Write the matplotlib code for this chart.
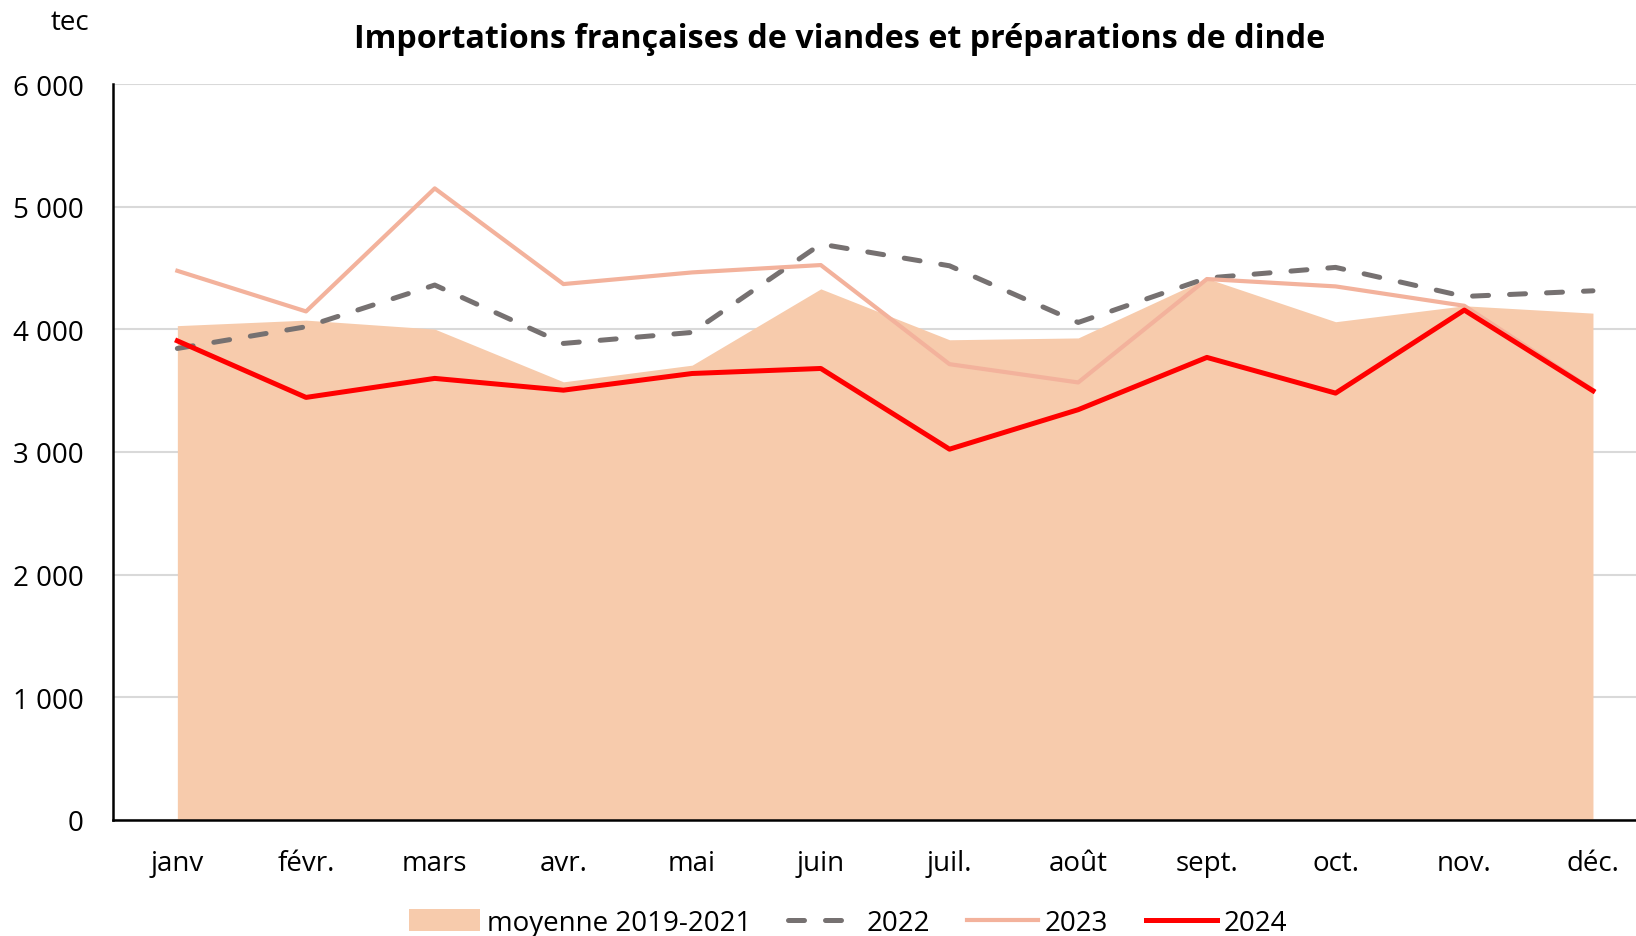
import matplotlib
matplotlib.use("Agg")
import matplotlib.pyplot as plt
from matplotlib.ticker import FuncFormatter
from matplotlib.patches import Patch
from matplotlib.lines import Line2D

months = ["janv", "févr.", "mars", "avr.", "mai", "juin", "juil.", "août", "sept.", "oct.", "nov.", "déc."]
moyenne_2019_2021 = [4030, 4075, 4002, 3572, 3708, 4330, 3915, 3930, 4415, 4062, 4192, 4132]
y2022 = [3844, 4021, 4361, 3885, 3975, 4695, 4518, 4056, 4418, 4505, 4268, 4314]
y2023 = [4477, 4146, 5149, 4369, 4464, 4524, 3716, 3567, 4410, 4350, 4192, 3505]
y2024 = [3906, 3445, 3600, 3504, 3640, 3681, 3023, 3345, 3771, 3480, 4157, 3499]
yticks = [0, 1000, 2000, 3000, 4000, 5000, 6000]

FONT = "Open Sans"
plt.rcParams["font.family"] = [FONT, "DejaVu Sans"]

W, H = 1636, 937
fig = plt.figure(figsize=(W / 100, H / 100), dpi=100)
ax = fig.add_axes([113 / W, 1 - 821 / H, 1 - 113 / W, (821 - 85) / H])

x = list(range(len(months)))
c_area = "#F7CBAC"
c_2022 = "#767171"
c_2023 = "#F3B29C"
c_2024 = "#FF0000"

LW22, LW23, LW24 = 3.6, 3.0, 3.6
FS = 20

ax.fill_between(x, 0, moyenne_2019_2021, color=c_area, lw=0, zorder=2)
ax.plot(x, y2022, color=c_2022, lw=LW22, dashes=(3.2, 4.2), dash_capstyle="round", zorder=3)
ax.plot(x, y2023, color=c_2023, lw=LW23, zorder=4)
ax.plot(x, y2024, color=c_2024, lw=LW24, zorder=5)

ax.set_xlim(-0.5, 11 + (1636 - 1593) / 128.6)
ax.set_ylim(0, 6000)
ax.set_yticks(yticks)
ax.yaxis.set_major_formatter(FuncFormatter(lambda v, p: f"{int(v):,}".replace(",", " ")))
ax.set_xticks(x)
ax.set_xticklabels(months)
ax.tick_params(axis="both", length=0, labelsize=FS, colors="black")
ax.tick_params(axis="y", pad=21)
ax.tick_params(axis="x", pad=21)
ax.grid(axis="y", color="#D9D9D9", lw=1.5, zorder=1)
ax.set_axisbelow(True)
for s in ["top", "right"]:
    ax.spines[s].set_visible(False)
ax.spines["left"].set_linewidth(1.8)
ax.spines["bottom"].set_linewidth(1.8)
ax.spines["left"].set_zorder(6)
ax.spines["bottom"].set_zorder(6)

fig.text(840 / W, 1 - 40 / H, "Importations françaises de viandes et préparations de dinde",
         ha="center", va="center", fontsize=23.2, fontweight="bold")
fig.text(70 / W, 1 - 23 / H, "tec", ha="center", va="center", fontsize=FS)

handles = [
    Patch(facecolor=c_area, edgecolor="none"),
    Line2D([], [], color=c_2022, lw=LW22, dashes=(3.2, 4.2), dash_capstyle="round"),
    Line2D([], [], color=c_2023, lw=LW23),
    Line2D([], [], color=c_2024, lw=LW24),
]
labels = ["moyenne 2019-2021", "2022", "2023", "2024"]
fig.legend(handles, labels, loc="center", bbox_to_anchor=(848 / W, 1 - 924 / H), ncol=4,
           frameon=False, fontsize=FS, handlelength=2.55, handletextpad=0.25, columnspacing=1.35,
           handleheight=0.85)

fig.savefig("out.png", dpi=100)
